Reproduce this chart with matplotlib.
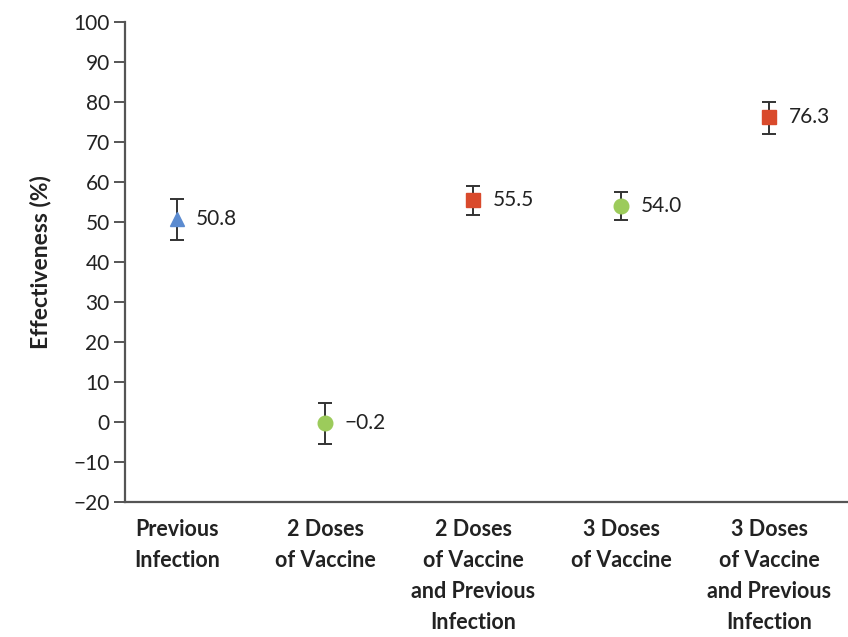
import numpy as np
import matplotlib
matplotlib.use("Agg")
import matplotlib.pyplot as plt

plt.rcParams['font.family'] = ['Lato', 'DejaVu Sans']

# data
groups = ["Previous\nInfection", "2 Doses\nof Vaccine", "2 Doses\nof Vaccine\nand Previous\nInfection",
          "3 Doses\nof Vaccine", "3 Doses\nof Vaccine\nand Previous\nInfection"]
effect = [50.8, -0.2, 55.5, 54.0, 76.3]
ci_low = [45.6, -5.5, 51.7, 50.4, 71.9]
ci_high = [55.8, 4.7, 59.0, 57.4, 80.0]
value_labels = ["50.8", "\u22120.2", "55.5", "54.0", "76.3"]
markers = ["^", "o", "s", "o", "s"]
colors = ["#5b8bd0", "#9ccb5b", "#d94a2c", "#9ccb5b", "#d94a2c"]

fig = plt.figure(figsize=(8.48, 6.37), dpi=100)
ax = fig.add_axes([0.1474, 0.212, 0.8526, 0.7535])

x = np.arange(len(groups))
axis_col = "#555555"
for i in x:
    ax.errorbar(x[i], effect[i], yerr=[[effect[i] - ci_low[i]], [ci_high[i] - effect[i]]],
                fmt='none', ecolor="#333333", elinewidth=1.4, capsize=5, capthick=1.4, zorder=2)
    ax.plot(x[i], effect[i], marker=markers[i], color=colors[i], markersize=10.5 if markers[i] != "s" else 10,
            linestyle='none', zorder=3)
    ax.annotate(value_labels[i], (x[i], effect[i]), xytext=(14, 0), textcoords='offset points',
                va='center', ha='left', fontsize=15, color="#222222")

ax.set_xlim(-0.35, 4.53)
ax.set_ylim(-20, 100)
ax.set_yticks(np.arange(-20, 101, 10))
ax.set_yticklabels([("\u2212" + str(-v)) if v < 0 else str(v) for v in range(-20, 101, 10)])
ax.set_xticks(x)
ax.set_xticklabels(groups, fontweight='bold', fontsize=15.5, linespacing=1.6, color="#222222")
ax.tick_params(axis='x', length=0, pad=12)
ax.tick_params(axis='y', direction='out', length=8, width=1.4, color=axis_col, labelsize=15,
               labelcolor="#222222", pad=3)
for s in ['top', 'right']:
    ax.spines[s].set_visible(False)
for s in ['left', 'bottom']:
    ax.spines[s].set_color(axis_col)
    ax.spines[s].set_linewidth(1.6)

ax.set_ylabel("Effectiveness (%)", fontweight='bold', fontsize=16.5, color="#222222", labelpad=16)

fig.savefig("out.png", dpi=100)
